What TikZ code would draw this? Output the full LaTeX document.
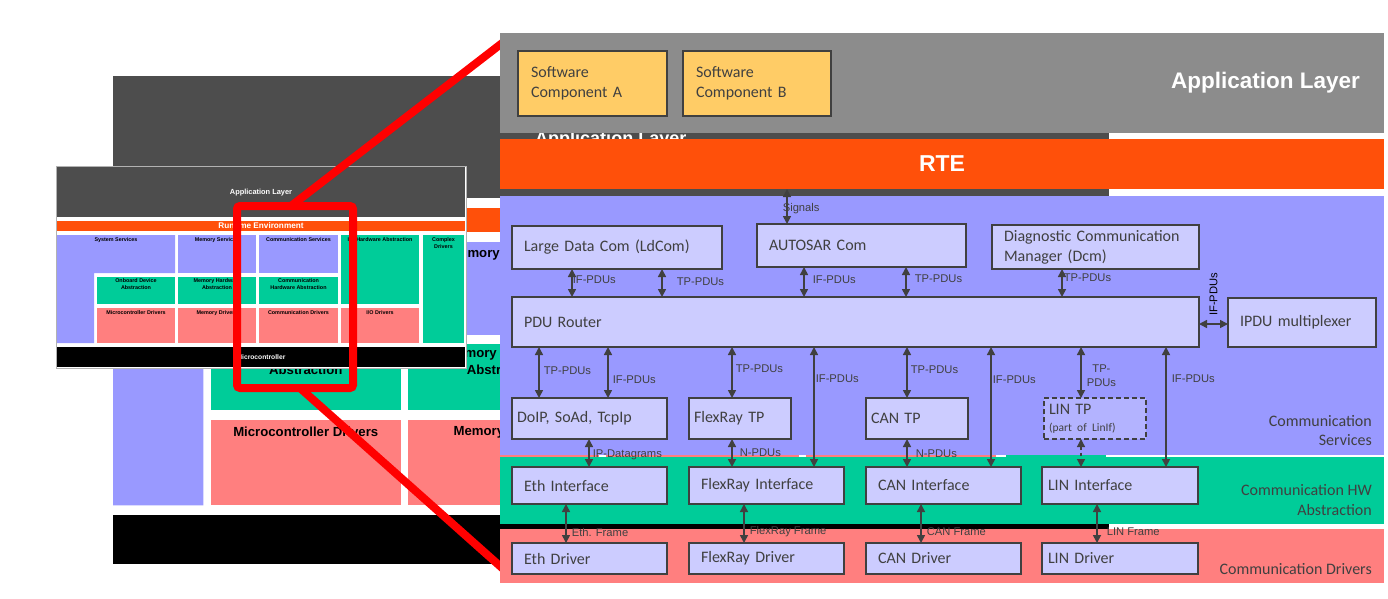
\documentclass[tikz,border=0pt]{standalone}
\usepackage{fontspec}
\setmainfont{Liberation Sans}
\newfontfamily\calfont{Carlito}
\usetikzlibrary{arrows.meta}

\definecolor{applgray}{HTML}{8C8C8C}
\definecolor{stackdark}{HTML}{4D4D4D}
\definecolor{rteorange}{HTML}{FF500A}
\definecolor{servlav}{HTML}{9999FF}
\definecolor{hwgreen}{HTML}{00CC99}
\definecolor{drvpink}{HTML}{FF7F7F}
\definecolor{boxfill}{HTML}{CCCCFF}
\definecolor{boxline}{HTML}{404040}
\definecolor{swcfill}{HTML}{FFCC66}
\definecolor{lintpfill}{HTML}{B3B3FF}

\tikzset{
  stacklbl/.style={font=\bfseries\fontsize{5.4}{7}\selectfont, align=center, inner sep=0pt},
  whitelbl/.style={stacklbl, text=white}
}

% the whole stack in small, origin at its top left corner
\newcommand{\autosarstack}{%
  \fill[white] (-1,-1) rectangle (409,201);
  \fill[stackdark] (0,0) rectangle (408,50);
  \fill[rteorange] (0,54) rectangle (408,64);
  \fill[servlav] (0,68) -- (118,68) -- (118,106) -- (37,106) -- (37,176) -- (0,176) -- cycle;
  \fill[servlav] (121,68) rectangle (199,106);
  \fill[servlav] (202,68) rectangle (281,106);
  \fill[hwgreen] (284,68) rectangle (362,137);
  \fill[hwgreen] (366,68) rectangle (407,176);
  \fill[hwgreen] (40,110) rectangle (118,137);
  \fill[hwgreen] (121,110) rectangle (199,137);
  \fill[hwgreen] (202,110) rectangle (281,137);
  \fill[drvpink] (40,141) rectangle (118,176);
  \fill[drvpink] (121,141) rectangle (199,176);
  \fill[drvpink] (202,141) rectangle (281,176);
  \fill[drvpink] (284,141) rectangle (362,176);
  \fill[black] (0,180) rectangle (408,200);
  \node[whitelbl, font=\bfseries\fontsize{7.4}{9}\selectfont] (appl) at (204,26) {Application Layer};
  \node[whitelbl, font=\bfseries\fontsize{8.2}{9}\selectfont] (rte) at (204,59) {Runtime Environment};
  \node[stacklbl] (syssrv) at (59,73) {System Services};
  \node[stacklbl] (memsrv) at (160,73) {Memory Services};
  \node[stacklbl] (comsrv) at (241.5,73) {Communication  Services};
  \node[stacklbl] (iohw) at (323,73) {I/O Hardware Abstraction};
  \node[stacklbl] (cdd) at (386.5,76.5) {Complex\\Drivers};
  \node[stacklbl] (ecual) at (79,117) {Onboard Device\\Abstraction};
  \node[stacklbl] (memhw) at (160,117) {Memory Hardware\\Abstraction};
  \node[stacklbl] (comhw) at (241.5,117) {Communication\\Hardware Abstraction};
  \node[stacklbl] (mcal) at (79,146) {Microcontroller Drivers};
  \node[stacklbl] (memdrv) at (160,146) {Memory Drivers};
  \node[stacklbl] (comdrv) at (241.5,146) {Communication  Drivers};
  \node[stacklbl] (iodrv) at (323,146) {I/O Drivers};
  \node[whitelbl, font=\bfseries\fontsize{6.7}{8}\selectfont] (mcu) at (204,190) {Microcontroller};
}

\begin{document}
\begin{tikzpicture}[x=1pt, y=-1pt,
  layer/.style={anchor=north west, inner sep=0pt, outer sep=0pt, minimum width=884pt},
  box/.style={draw=boxline, fill=boxfill, line width=1.6pt, anchor=north west, outer sep=0pt,
    inner ysep=0pt, align=left, text=boxline, font=\calfont\fontsize{16}{20}\selectfont},
  lbl/.style={font=\fontsize{11.2}{14}\selectfont, inner sep=0pt, anchor=west, align=center},
  dbl/.style={boxline, line width=1.6pt, >={Triangle[length=8pt,width=8pt]}, <->},
  layertxt/.style={font=\calfont\fontsize{16}{19.5}\selectfont, text=boxline, align=right, anchor=east, inner sep=0pt},
  zoommark/.style={red, line width=8pt}
]
\useasboundingbox (0,0) rectangle (1388,598);

%big stack behind everything
\begin{scope}[shift={(113,76)}, scale=2.44, transform shape, name prefix=big-]
  \autosarstack
\end{scope}

%small stack on the left
\begin{scope}[shift={(57,167)}, name prefix=small-]
  \autosarstack
  \draw[gray!60, line width=0.4pt] (-1,-1) rectangle (409,201);
\end{scope}

%zoom frame and its two lines
\node[draw=red, line width=8pt, rounded corners=3pt, minimum width=116pt, minimum height=182pt,
  anchor=north west, outer sep=0pt, inner sep=0pt] (zoomfrm) at (237,206) {};
\coordinate (zoomtop) at (510,37);
\coordinate (zoombot) at (510,575);
\draw[zoommark] (zoomfrm.north -| 291,0) -- (zoomtop);
\draw[zoommark] (zoomfrm.south -| 300,0) -- (zoombot);

%layers of the zoomed part
\node[layer, fill=applgray, minimum height=100pt] (appl) at (500,33) {};
\node[layer, fill=rteorange, minimum height=50pt, text=white,
  font=\bfseries\fontsize{23}{27}\selectfont] (rte) at (500,139) {RTE};
\node[layer, fill=servlav, minimum height=259pt] (comsrv) at (500,196) {};
\node[layer, fill=hwgreen, minimum height=67pt] (comhw) at (500,457) {};
\node[layer, fill=drvpink, minimum height=54pt] (comdrv) at (500,529) {};

\node[layertxt, text=white, font=\bfseries\fontsize{22.5}{26}\selectfont] (appltxt) at (1360,83) {Application Layer};
\node[layertxt] (comsrvtxt) at (1372,430.5) {Communication\\Services};
\node[layertxt] (comhwtxt) at (1372,500) {Communication HW\\Abstraction};
\node[layertxt] (comdrvtxt) at (1372,569) {Communication Drivers};

%software components
\node[box, fill=swcfill, text width=123pt, inner xsep=13pt, minimum height=65pt] (swca) at (518,51) {Software\\Component A};
\node[box, fill=swcfill, text width=122pt, inner xsep=13pt, minimum height=65pt] (swcb) at (683,51) {Software\\Component B};

%upper modules
\node[box, text width=186pt, inner xsep=12pt, minimum height=43pt] (ldcom) at (512,226) {Large Data Com (LdCom)};
\node[box, text width=185pt, inner xsep=12pt, minimum height=43pt] (asrcom) at (757,224) {AUTOSAR Com};
\node[box, text width=183pt, inner xsep=12pt, minimum height=44pt] (dcm) at (992,225) {Diagnostic Communication\\Manager (Dcm)};
\node[box, text width=663pt, inner xsep=12pt, minimum height=50pt] (pdur) at (512,297) {PDU Router};
\node[box, text width=124pt, inner xsep=12pt, minimum height=49pt] (ipdum) at (1228,298) {IPDU multiplexer};

%transport protocols
\node[box, text width=145pt, inner xsep=5pt, minimum height=41pt] (doip) at (512,398) {DoIP, SoAd, TcpIp};
\node[box, text width=92pt, inner xsep=5pt, minimum height=41pt] (frtp) at (689,398) {FlexRay TP};
\node[box, text width=92pt, inner xsep=5pt, minimum height=41pt] (cantp) at (866,398) {CAN TP};
\node[box, dash pattern=on 5pt off 3pt, fill=lintpfill, text width=92pt, inner xsep=5pt, minimum height=41pt] (lintp) at (1044,398)
  {LIN TP\\[-3pt]{\fontsize{11.5}{14}\selectfont(part of LinIf)}};

%interfaces
\node[box, text width=131pt, inner xsep=12pt, minimum height=37pt] (ethif) at (512,467) {Eth Interface};
\node[box, text width=131pt, inner xsep=12pt, minimum height=37pt] (frif) at (689,467) {FlexRay Interface};
\node[box, text width=131pt, inner xsep=12pt, minimum height=37pt] (canif) at (866,467) {CAN Interface};
\node[box, text width=144pt, inner xsep=6pt, minimum height=37pt] (linif) at (1042,467) {LIN Interface};

%drivers
\node[box, text width=131pt, inner xsep=12pt, minimum height=31pt] (ethdrv) at (512,543) {Eth Driver};
\node[box, text width=131pt, inner xsep=12pt, minimum height=31pt] (frdrv) at (689,543) {FlexRay Driver};
\node[box, text width=131pt, inner xsep=12pt, minimum height=31pt] (candrv) at (866,543) {CAN Driver};
\node[box, text width=144pt, inner xsep=6pt, minimum height=31pt] (lindrv) at (1042,543) {LIN Driver};

%connecting them
\draw[dbl] (rte.south -| 787,0) -- (asrcom.north -| 787,0) node[lbl, midway, xshift=-5pt, yshift=-2pt] {Signals};
\draw[dbl] (ldcom.south -| 572,0) -- (pdur.north -| 572,0) node[lbl, midway, yshift=3pt] {IF-PDUs};
\draw[dbl] (ldcom.south -| 662,0) -- (pdur.north -| 662,0) node[lbl, midway, xshift=14pt, yshift=1pt] {TP-PDUs};
\draw[dbl] (asrcom.south -| 804,0) -- (pdur.north -| 804,0) node[lbl, midway, xshift=8pt, yshift=2pt] {IF-PDUs};
\draw[dbl] (asrcom.south -| 906,0) -- (pdur.north -| 906,0) node[lbl, midway, xshift=8pt, yshift=3pt] {TP-PDUs};
\draw[dbl] (dcm.south -| 1062,0) -- (pdur.north -| 1062,0) node[lbl, midway, xshift=1pt, yshift=5pt] {TP-PDUs};
\draw[dbl] (pdur.east |- 0,324) -- (ipdum.west |- 0,324);
\node[lbl, rotate=90] (muxlbl) at (1213.5,316) {IF-PDUs};

\draw[dbl] (pdur.south -| 539,0) -- (doip.north -| 539,0) node[lbl, midway, xshift=4pt, yshift=1.5pt] {TP-PDUs};
\draw[dbl] (pdur.south -| 608,0) -- (doip.north -| 608,0) node[lbl, midway, xshift=4pt, yshift=-7.5pt] {IF-PDUs};
\draw[dbl] (pdur.south -| 732,0) -- (frtp.north -| 732,0) node[lbl, midway, xshift=3pt, yshift=3.5pt] {TP-PDUs};
\draw[dbl] (pdur.south -| 814,0) -- (frif.north -| 814,0) node[lbl, pos=0.26, xshift=1pt] {IF-PDUs};
\draw[dbl] (pdur.south -| 907,0) -- (cantp.north -| 907,0) node[lbl, midway, xshift=3pt, yshift=2.5pt] {TP-PDUs};
\draw[dbl] (pdur.south -| 991,0) -- (canif.north -| 991,0) node[lbl, pos=0.275, xshift=1pt] {IF-PDUs};
\draw[dbl] (pdur.south -| 1081,0) -- (lintp.north -| 1081,0) node[lbl, midway, xshift=5pt, yshift=-3.5pt] {TP-\\PDUs};
\draw[dbl] (pdur.south -| 1166,0) -- (linif.north -| 1166,0) node[lbl, pos=0.267, xshift=5pt] {IF-PDUs};

\draw[dbl] (doip.south -| 589,0) -- (ethif.north -| 589,0) node[lbl, midway, xshift=3pt, yshift=-2pt] {IP-Datagrams};
\draw[dbl] (frtp.south -| 732,0) -- (frif.north -| 732,0) node[lbl, midway, xshift=7pt] {N-PDUs};
\draw[dbl] (cantp.south -| 907,0) -- (canif.north -| 907,0) node[lbl, midway, xshift=8pt, yshift=-1pt] {N-PDUs};
\draw[dbl, dashed, line width=1.3pt] (lintp.south -| 1081,0) -- (linif.north -| 1081,0);

\draw[dbl] (ethif.south -| 566,0) -- (ethdrv.north -| 566,0) node[lbl, midway, xshift=5pt, yshift=-8.5pt] {Eth. Frame};
\draw[dbl] (frif.south -| 744,0) -- (frdrv.north -| 744,0) node[lbl, midway, xshift=5pt, yshift=-8.5pt] {FlexRay Frame};
\draw[dbl] (canif.south -| 921,0) -- (candrv.north -| 921,0) node[lbl, midway, xshift=5pt, yshift=-8.5pt] {CAN Frame};
\draw[dbl] (linif.south -| 1097,0) -- (lindrv.north -| 1097,0) node[lbl, midway, xshift=9pt, yshift=-8.5pt] {LIN Frame};
\end{tikzpicture}
\end{document}
